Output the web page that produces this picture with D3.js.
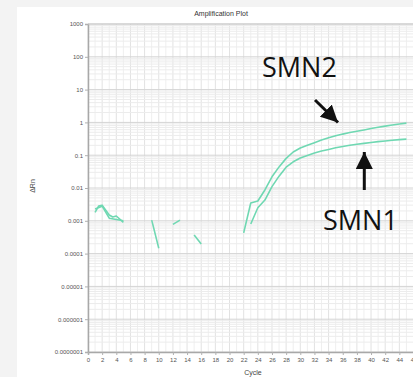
<!DOCTYPE html>
<html>
<head>
<meta charset="utf-8">
<script src="https://cdn.jsdelivr.net/npm/d3@7"></script>
<style>
  body { margin: 0; background: #f3f3f3; }
  svg { display: block; }
</style>
</head>
<body>
<svg width="413" height="377"></svg>
<script>
// cycles + dRn readings for the two amplified wells
const cycles = [22, 23, 24, 25, 26, 27, 28, 29, 30, 31, 32, 33, 34, 35, 36, 37, 38, 39, 40, 41, 42, 43, 44, 45];
const smn2 = [0.00043, 0.0035, 0.004, 0.0087, 0.022, 0.044, 0.08, 0.125, 0.165, 0.2, 0.24, 0.29, 0.34, 0.39, 0.44, 0.49, 0.54, 0.59, 0.65, 0.71, 0.77, 0.83, 0.89, 0.95];
const smn1 = [null, 0.0008, 0.0025, 0.0043, 0.011, 0.023, 0.043, 0.063, 0.082, 0.098, 0.117, 0.135, 0.15, 0.168, 0.185, 0.2, 0.215, 0.23, 0.245, 0.26, 0.272, 0.285, 0.298, 0.31];

// baseline noise fragments (cycle, value)
const noiseA = [[1, 0.0018], [1.5, 0.0028], [2, 0.003], [3, 0.0015], [3.5, 0.0013], [4, 0.0014], [5, 0.0009]];
const noiseB = [[1, 0.0023], [2, 0.0028], [3, 0.0012], [4, 0.0011], [5, 0.001]];
const noiseC = [[9, 0.00105], [10, 0.000145]];
const noiseD = [[12, 0.00078], [13, 0.00105]];
const noiseE = [[15, 0.00037], [16, 0.000195]];

const yTicks = [1e-7, 1e-6, 1e-5, 1e-4, 1e-3, 0.01, 0.1, 1, 10, 100, 1000];
const yTickLabels = ["0.0000001", "0.000001", "0.00001", "0.0001", "0.001", "0.01", "0.1", "1", "10", "100", "1000"];
const xTicks = d3.range(0, 47, 2);

const svg = d3.select("svg");

svg.append("rect")
  .attr("x", 17).attr("y", 7)
  .attr("width", 400).attr("height", 380)
  .attr("fill", "#fff");

const x = d3.scaleLinear().domain([0, 46]).range([88, 413.5]);
const y = d3.scaleLog().domain([1e-7, 1000]).range([352, 24]);

const g = svg.append("g");

// minor grid
const minorY = [];
yTicks.slice(0, -1).forEach((t) => {
  for (let k = 2; k < 10; k++) minorY.push(t * k);
});
g.append("g")
  .selectAll("line")
  .data(d3.range(0, 47, 1))
  .enter()
  .append("line")
  .attr("x1", (d) => x(d)).attr("x2", (d) => x(d))
  .attr("y1", 24).attr("y2", 352)
  .attr("stroke", (d) => (d % 2 === 0 ? "#e2e2e2" : "#efefef"))
  .attr("stroke-width", 1);

g.append("g")
  .selectAll("line")
  .data(minorY)
  .enter()
  .append("line")
  .attr("x1", 88).attr("x2", 413)
  .attr("y1", (d) => y(d)).attr("y2", (d) => y(d))
  .attr("stroke", "#ececec");

g.append("g")
  .selectAll("line")
  .data(yTicks)
  .enter()
  .append("line")
  .attr("x1", 88).attr("x2", 413)
  .attr("y1", (d) => y(d)).attr("y2", (d) => y(d))
  .attr("stroke", "#d4d4d4");

// axes
const yAxis = d3.axisLeft(y)
  .tickValues(yTicks)
  .tickFormat((d, i) => yTickLabels[i])
  .tickSize(3)
  .tickPadding(2);
const xAxis = d3.axisBottom(x)
  .tickValues(xTicks)
  .tickSize(3)
  .tickPadding(3);

const ya = svg.append("g").attr("transform", "translate(88,0)").call(yAxis);
const xa = svg.append("g").attr("transform", "translate(0,352)").call(xAxis);
[ya, xa].forEach((a) => {
  a.select(".domain").attr("stroke", "#a8a8a8").attr("stroke-width", 1.5);
  a.selectAll(".tick line").attr("stroke", "#b0b0b0");
  a.selectAll(".tick text")
    .attr("fill", "#555")
    .style("font-family", "Liberation Sans, Arial, sans-serif")
    .style("font-size", "6px");
});

svg.append("line")
  .attr("x1", 88).attr("x2", 413).attr("y1", 24).attr("y2", 24)
  .attr("stroke", "#c8c8c8");

// titles
svg.append("text")
  .attr("x", 221).attr("y", 16)
  .attr("text-anchor", "middle")
  .style("font-family", "Liberation Sans, Arial, sans-serif")
  .style("font-size", "7px")
  .attr("fill", "#333")
  .text("Amplification Plot");

svg.append("text")
  .attr("x", 253).attr("y", 375)
  .attr("text-anchor", "middle")
  .style("font-family", "Liberation Sans, Arial, sans-serif")
  .style("font-size", "7px")
  .attr("fill", "#444")
  .text("Cycle");

svg.append("text")
  .attr("transform", "translate(35,186) rotate(-90)")
  .attr("text-anchor", "middle")
  .style("font-family", "Liberation Sans, Arial, sans-serif")
  .style("font-size", "7px")
  .attr("fill", "#444")
  .text("ΔRn");

// curves
const line = d3.line()
  .defined((d) => d[1] != null)
  .x((d) => x(d[0]))
  .y((d) => y(d[1]));

const curveData = [
  cycles.map((c, i) => [c, smn2[i]]),
  cycles.map((c, i) => [c, smn1[i]]),
  noiseA, noiseB, noiseC, noiseD, noiseE,
];

svg.append("g")
  .selectAll("path")
  .data(curveData)
  .enter()
  .append("path")
  .attr("d", line)
  .attr("fill", "none")
  .attr("stroke", "#6fd8b2")
  .attr("stroke-width", 1.6)
  .attr("stroke-linejoin", "round");

// annotations
const labelFont = "'Open Sans', 'Noto Sans', sans-serif";
svg.append("text")
  .attr("x", 262).attr("y", 77)
  .style("font-family", labelFont)
  .style("font-size", "27px")
  .attr("fill", "#111")
  .text("SMN2");
svg.append("text")
  .attr("x", 323).attr("y", 230)
  .style("font-family", labelFont)
  .style("font-size", "27px")
  .attr("fill", "#111")
  .text("SMN1");

svg.append("defs").append("marker")
  .attr("id", "head")
  .attr("viewBox", "0 0 10 10")
  .attr("refX", 10).attr("refY", 5)
  .attr("markerWidth", 8).attr("markerHeight", 8)
  .attr("markerUnits", "userSpaceOnUse")
  .attr("orient", "auto")
  .append("path")
  .attr("d", "M0,0 L10,5 L0,10 Z")
  .attr("fill", "#111");

svg.select("#head")
  .attr("markerWidth", 17).attr("markerHeight", 17);

svg.append("line")
  .attr("x1", 315).attr("y1", 100).attr("x2", 338).attr("y2", 122.5)
  .attr("stroke", "#111").attr("stroke-width", 3)
  .attr("marker-end", "url(#head)");
svg.append("line")
  .attr("x1", 364.3).attr("y1", 190).attr("x2", 364.3).attr("y2", 152)
  .attr("stroke", "#111").attr("stroke-width", 3)
  .attr("marker-end", "url(#head)");
</script>
</body>
</html>
